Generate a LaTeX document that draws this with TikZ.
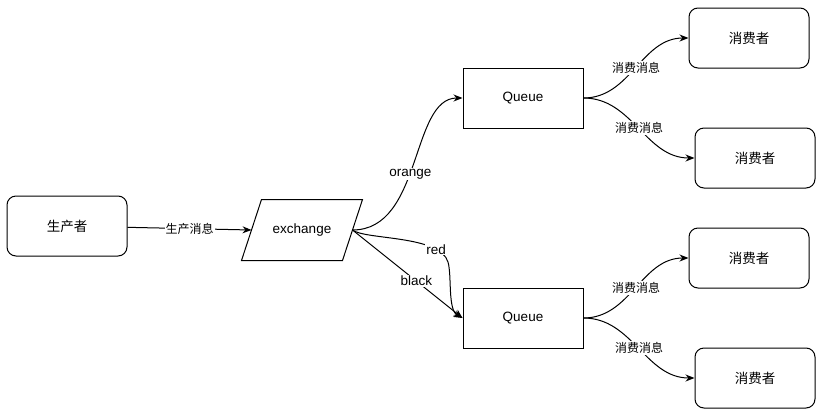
\documentclass[tikz,border=0pt]{standalone}
\usepackage{fontspec}
\setmainfont{Liberation Sans}
\newfontfamily\cjk{Noto Sans CJK SC}
\usetikzlibrary{arrows.meta}

\tikzset{
	mqpicture/.style = {
		x = 1pt,
		y = -1pt,
		line width = 1pt,
		font = \fontsize{13.5}{16}\selectfont,
		arrow/.style = {
			draw,
			-{Stealth[length = 9pt, width = 7pt]},
		}
	},
	roundbox/.style = {
		rectangle,
		rounded corners = 9pt,
		draw = black,
		minimum width = 120pt,
		minimum height = 60pt,
		font = \cjk\fontsize{13.5}{16}\selectfont
	},
	queuebox/.style = {
		rectangle,
		draw = black,
		minimum width = 120pt,
		minimum height = 60pt
	},
	exnode/.style = {
		rectangle,
		inner sep = 0pt,
		minimum width = 100pt,
		minimum height = 60pt
	},
	msglabel/.style = {
		fill = white,
		inner sep = 1pt,
		font = \cjk\fontsize{12}{14}\selectfont
	},
	keylabel/.style = {
		fill = white,
		inner sep = 1pt
	}
}

\begin{document}
\begin{tikzpicture}[mqpicture]
	\useasboundingbox (0,0) rectangle (831,416);

	\node[roundbox] (producer) at (67,226) {生产者};
	\node[exnode] (ex) at (302,230) {exchange};
	\draw ([xshift = 10pt]ex.north west) -- ([xshift = 10pt]ex.north east)
		-- ([xshift = -10pt]ex.south east) -- ([xshift = -10pt]ex.south west) -- cycle;

	\node[queuebox] (queue1) at (523,98) {Queue};
	\node[queuebox] (queue2) at (523,318) {Queue};

	\node[roundbox] (consumer1) at (749,38) {消费者};
	\node[roundbox] (consumer2) at (755,158) {消费者};
	\node[roundbox] (consumer3) at (749,258) {消费者};
	\node[roundbox] (consumer4) at (755,378) {消费者};

	\coordinate (redbend) at (448,262);

	\begin{scope}[every path/.style = arrow]
		\path (producer) to node[msglabel] {生产消息} (ex.west);

		\path (ex.east) .. controls +(70,0) and +(-52,0) .. node[keylabel, pos = 0.45] {orange} (queue1.west);
		\path (ex.east) .. controls +(13,10) and +(-8,-27) .. node[keylabel, pos = 0.8] {red} (redbend)
			.. controls +(4,14) and +(-15,-8) .. (queue2.west);
		\path (ex.east) -- node[keylabel, pos = 0.58] {black} (queue2.west);

		\path (queue1.east) to[out = 0, in = 180] node[msglabel] {消费消息} (consumer1.west);
		\path (queue1.east) to[out = 0, in = 180] node[msglabel] {消费消息} (consumer2.west);
		\path (queue2.east) to[out = 0, in = 180] node[msglabel] {消费消息} (consumer3.west);
		\path (queue2.east) to[out = 0, in = 180] node[msglabel] {消费消息} (consumer4.west);
	\end{scope}
\end{tikzpicture}
\end{document}
